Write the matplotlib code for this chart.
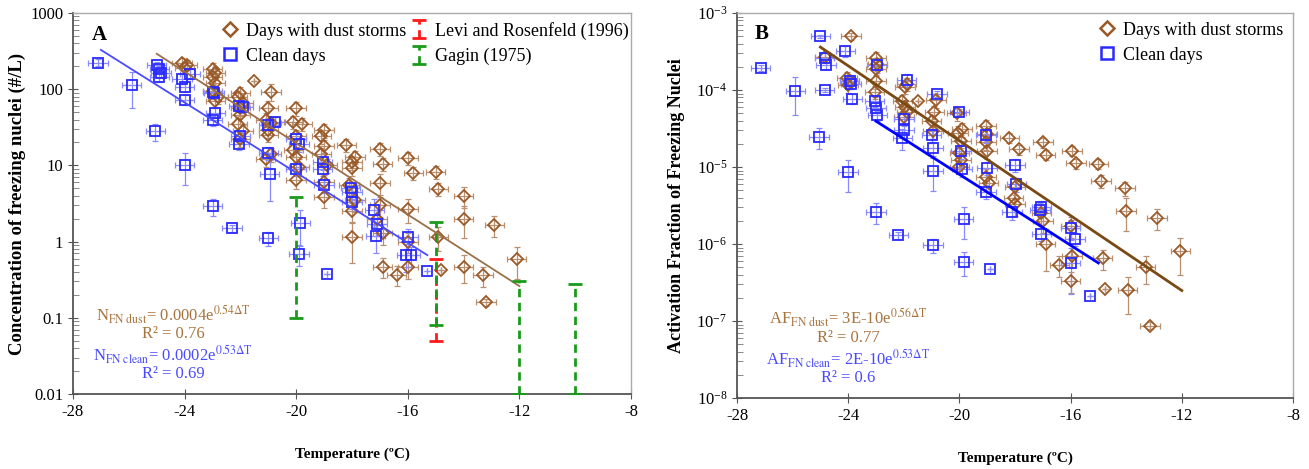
import numpy as np
import matplotlib
matplotlib.use('Agg')
import matplotlib.pyplot as plt
from matplotlib.lines import Line2D
from matplotlib.ticker import FixedLocator, LogLocator, NullFormatter, LogFormatterMathtext

plt.rcParams['font.family'] = ['Liberation Serif', 'DejaVu Serif']
plt.rcParams['mathtext.fontset'] = 'stix'
plt.rcParams['axes.unicode_minus'] = False

# ---- Panel A: concentration of freezing nuclei (#/L) ----
dustA_T = [-24.1, -23.9, -24.0, -23.0, -22.9, -23.0, -22.9, -23.0, -22.8, -22.9,
           -21.5, -22.0, -22.1, -21.9, -22.0, -22.0, -22.1, -21.9, -22.0, -20.9,
           -21.0, -21.1, -20.9, -21.0, -21.0, -20.9, -21.1, -20.0, -20.1, -19.8,
           -20.0, -20.1, -20.0, -19.9, -20.0, -19.0, -19.1, -19.0, -19.1, -18.9,
           -19.0, -19.0, -18.2, -17.9, -18.0, -18.0, -18.1, -17.9, -18.0, -18.0,
           -17.0, -16.9, -17.0, -17.0, -17.1, -16.9, -16.9, -16.4, -16.0, -15.8,
           -16.0, -16.0, -16.0, -15.0, -14.9, -14.9, -14.8, -14.0, -14.0, -14.0,
           -12.9, -13.3, -13.2, -12.1]
dustA_N = [220, 210, 190, 185, 165, 145, 120, 95, 80, 70,
           130, 88, 78, 65, 56, 46, 35, 28, 22, 93,
           56, 40, 36, 29, 25, 14, 12, 56, 37, 35,
           24, 16, 13, 9.6, 6.5, 29, 24, 18, 14, 10,
           6, 3.9, 18.5, 13, 11, 9.2, 5.5, 3.5, 2.5, 1.16,
           16.4, 10.4, 5.9, 3.0, 2.0, 1.3, 0.47, 0.37, 12.5, 8.0,
           2.7, 1.0, 0.46, 8.2, 4.9, 1.16, 0.43, 4.0, 2.0, 0.47,
           1.66, 0.36, 0.16, 0.59]
dustA_rel = [0.15, 0.15, 0.15, 0.2, 0.2, 0.2, 0.2, 0.2, 0.2, 0.2,
             0, 0.2, 0.2, 0.2, 0.2, 0.25, 0.2, 0.2, 0.2, 0.25,
             0.25, 0.2, 0.2, 0.2, 0.2, 0.2, 0.2, 0.2, 0.2, 0.2,
             0.2, 0.2, 0.2, 0.25, 0.25, 0.2, 0.2, 0.2, 0.2, 0.2,
             0.25, 0.3, 0.2, 0.2, 0.2, 0.2, 0.25, 0.3, 0.3, 0.55,
             0.2, 0.2, 0.3, 0.3, 0.3, 0.3, 0.3, 0.3, 0.2, 0.2,
             0.35, 0.3, 0.3, 0.2, 0.2, 0.35, 0, 0.3, 0.45, 0.4,
             0.3, 0.3, 0.1, 0.45]

cleanA_T = [-27.1, -25.9, -25.05, -25.0, -24.9, -24.85, -24.9, -24.0, -24.1, -24.0,
            -24.0, -23.8, -23.0, -23.0, -22.95, -22.9, -23.0, -22.3, -22.05, -21.9,
            -22.0, -22.05, -21.0, -20.75, -21.0, -21.0, -20.95, -20.0, -19.9, -20.0,
            -19.85, -19.9, -18.9, -19.05, -19.05, -19.0, -18.05, -18.0, -18.0, -17.2,
            -17.1, -17.15, -16.0, -16.05, -15.9, -15.3]
cleanA_N = [224, 113, 28, 205, 185, 165, 145, 10, 138, 108,
            72, 158, 2.9, 93, 88, 49, 39, 1.5, 60, 58,
            24, 19, 1.1, 37, 34, 14.5, 7.6, 22, 19, 9.1,
            1.74, 0.69, 0.38, 11, 9, 5.5, 5.0, 4.5, 3.3, 2.6,
            1.7, 1.17, 1.14, 0.66, 0.66, 0.41]
cleanA_rel = [0.1, 0.5, 0.25, 0.1, 0.1, 0.15, 0.15, 0.45, 0.15, 0.15,
              0.15, 0.15, 0.25, 0.15, 0.15, 0.15, 0.15, 0.1, 0.15, 0.15,
              0.15, 0.15, 0.2, 0.15, 0.15, 0.2, 0.55, 0.2, 0.2, 0.2,
              0.5, 0.3, 0, 0.2, 0.2, 0.2, 0.2, 0.2, 0.2, 0.4,
              0.3, 0.4, 0.3, 0.4, 0.3, 0]

# literature ranges (T, low, high)
gagin_T = [-20, -15, -12, -10]
gagin_lo = [0.1, 0.08, 0.01, 0.01]
gagin_hi = [3.9, 1.8, 0.3, 0.28]
levi_T = [-15]
levi_lo = [0.05]
levi_hi = [0.6]

# fits: coefficient, rate, T range
fitA_dust = (0.0004, 0.54, -25.0, -12.0)
fitA_clean = (0.0002, 0.53, -27.0, -15.3)

# ---- Panel B: activation fraction ----
dustB_T = [-24.85, -23.9, -24.05, -23.95, -24.0, -23.0, -22.95, -23.0, -23.0, -23.05,
           -21.9, -21.95, -22.05, -21.95, -21.9, -22.0, -21.5, -20.85, -20.9, -21.0,
           -20.95, -20.1, -19.9, -20.05, -19.95, -20.0, -19.95, -20.0, -19.05, -19.0,
           -19.05, -19.0, -19.05, -18.95, -18.2, -17.85, -18.0, -18.05, -18.0, -17.0,
           -16.9, -17.05, -17.0, -16.9, -16.4, -15.95, -15.8, -16.0, -15.95, -16.0,
           -15.0, -14.9, -14.85, -14.78, -14.05, -14.0, -13.95, -12.9, -13.3, -13.15,
           -12.05]
dustB_AF = [2.7e-4, 5.0e-4, 1.42e-4, 1.29e-4, 1.15e-4, 2.6e-4, 2.2e-4, 1.9e-4, 1.29e-4, 9.5e-5,
            1.2e-4, 1.1e-4, 7.1e-5, 6.1e-5, 5.2e-5, 4.5e-5, 7.1e-5, 7.4e-5, 5.2e-5, 3.9e-5,
            2.9e-5, 5.0e-5, 3.1e-5, 2.8e-5, 2.2e-5, 1.54e-5, 1.23e-5, 1.0e-5, 3.4e-5, 2.7e-5,
            2.1e-5, 1.6e-5, 7.5e-6, 6.2e-6, 2.4e-5, 1.7e-5, 5.5e-6, 4.0e-6, 3.3e-6, 2.1e-5,
            1.44e-5, 2.5e-6, 2.0e-6, 1.0e-6, 5.4e-7, 1.63e-5, 1.12e-5, 1.7e-6, 6.9e-7, 3.3e-7,
            1.1e-5, 6.6e-6, 6.5e-7, 2.6e-7, 5.3e-6, 2.7e-6, 2.5e-7, 2.2e-6, 5.0e-7, 8.7e-8,
            8.0e-7]
dustB_rel = [0.15, 0.1, 0.2, 0.2, 0.2, 0.2, 0.2, 0.2, 0.2, 0.2,
             0.2, 0.2, 0.2, 0.2, 0.2, 0.2, 0, 0.2, 0.2, 0.2,
             0.2, 0.2, 0.2, 0.2, 0.2, 0.2, 0.2, 0.2, 0.2, 0.2,
             0.2, 0.2, 0.25, 0.25, 0.15, 0.15, 0.3, 0.3, 0.3, 0.15,
             0.15, 0.3, 0.3, 0.55, 0.3, 0.15, 0.15, 0.3, 0.3, 0.3,
             0.15, 0.2, 0.3, 0, 0.2, 0.45, 0.5, 0.3, 0.4, 0.1,
             0.5]

cleanB_T = [-27.15, -25.9, -25.0, -24.85, -24.8, -24.85, -25.05, -24.1, -23.95, -23.9,
            -23.85, -24.0, -22.97, -23.05, -23.0, -22.95, -23.0, -22.2, -21.9, -22.0,
            -22.0, -22.05, -20.8, -21.0, -20.95, -20.95, -20.95, -20.0, -19.95, -19.9,
            -19.85, -19.85, -18.9, -19.05, -19.0, -19.05, -18.0, -17.95, -18.1, -17.05,
            -17.1, -17.05, -16.0, -15.85, -16.0, -15.3]
cleanB_AF = [1.94e-4, 9.8e-5, 5.0e-4, 2.6e-4, 2.1e-4, 1.0e-4, 2.45e-5, 3.2e-4, 1.29e-4, 1.2e-4,
             7.7e-5, 8.5e-6, 2.1e-4, 7.1e-5, 5.9e-5, 4.7e-5, 2.6e-6, 1.3e-6, 1.36e-4, 4.2e-5,
             3.0e-5, 2.4e-5, 8.9e-5, 2.6e-5, 1.75e-5, 8.9e-6, 9.6e-7, 5.2e-5, 1.6e-5, 9.3e-6,
             2.1e-6, 5.9e-7, 4.7e-7, 2.6e-5, 9.7e-6, 4.8e-6, 1.07e-5, 6.0e-6, 2.6e-6, 3.0e-6,
             2.8e-6, 1.35e-6, 1.6e-6, 1.17e-6, 5.6e-7, 2.1e-7]
cleanB_rel = [0.08, 0.52, 0.05, 0.15, 0.1, 0.05, 0.3, 0.15, 0.15, 0.15,
              0.15, 0.45, 0.2, 0.15, 0.15, 0.15, 0.3, 0.1, 0.2, 0.2,
              0.2, 0.3, 0.1, 0.2, 0.2, 0.45, 0.2, 0.1, 0.2, 0.2,
              0.45, 0.35, 0, 0.2, 0.2, 0.2, 0.2, 0.2, 0.2, 0.2,
              0.2, 0.2, 0.3, 0.2, 0.6, 0]

fitB_dust = (3e-10, 0.56, -25.0, -12.0)
fitB_clean = (2e-10, 0.53, -23.0, -15.0)

BROWN = '#9a5a28'
BROWN_ERR = '#b89070'
BLUE = '#2a2aff'
BLUE_ERR = '#8a8aff'
GREEN = '#1a9a1a'
RED = '#ff1a1a'


def draw_points(ax, T, v, rel, color, ecolor, marker, ms):
    T = np.asarray(T)
    v = np.asarray(v)
    rel = np.asarray(rel)
    xerr = np.where(rel > 0, 0.35, 0.0)
    ax.errorbar(T, v, xerr=xerr, yerr=v * rel, fmt='none', ecolor=ecolor,
                elinewidth=0.9, capsize=2, capthick=0.9, zorder=2)
    ax.plot(T, v, linestyle='none', marker=marker, ms=ms, mfc='none',
            mec=color, mew=1.3, zorder=3)


def draw_fit(ax, fit, color, lw):
    a, k, t0, t1 = fit
    t = np.array([t0, t1])
    ax.plot(t, a * np.exp(-k * t), color=color, lw=lw, zorder=5)


def draw_range(ax, T, lo, hi, color):
    T = np.asarray(T, dtype=float)
    lo = np.asarray(lo)
    hi = np.asarray(hi)
    mid = np.sqrt(lo * hi)
    eb = ax.errorbar(T, mid, yerr=[mid - lo, hi - mid], fmt='none', ecolor=color,
                     elinewidth=2, capsize=5, capthick=2, zorder=6)
    eb[2][0].set_linestyle((0, (3, 2)))
    return eb


def style_axes(ax):
    ax.set_xlim(-28, -8)
    ax.set_xticks([-28, -24, -20, -16, -12, -8])
    ax.tick_params(axis='both', which='major', direction='inout', length=7,
                   labelsize=12, color='#555555')
    ax.tick_params(axis='y', which='minor', direction='in', length=4, color='#777777')
    ax.tick_params(axis='x', which='minor', bottom=False)
    for s in ['left', 'bottom']:
        ax.spines[s].set_color('#555555')
        ax.spines[s].set_linewidth(1.3)
    for s in ['top', 'right']:
        ax.spines[s].set_color('#aaaaaa')
        ax.spines[s].set_linewidth(1.0)
    ax.set_xlabel('Temperature (ºC)', fontsize=11, fontweight='bold', labelpad=20)


fig = plt.figure(figsize=(13.09, 4.69), dpi=100)
axA = fig.add_axes([73 / 1309, 1 - 394 / 469, 558 / 1309, 381 / 469])
axB = fig.add_axes([737 / 1309, 1 - 398 / 469, 556 / 1309, 385 / 469])

# ---- A ----
axA.set_yscale('log')
draw_points(axA, dustA_T, dustA_N, dustA_rel, BROWN, BROWN_ERR, 'D', 6.5)
draw_points(axA, cleanA_T, cleanA_N, cleanA_rel, BLUE, BLUE_ERR, 's', 7.5)
draw_fit(axA, fitA_dust, '#9a7048', 1.3)
draw_fit(axA, fitA_clean, '#4a4aff', 1.3)
levi = draw_range(axA, levi_T, levi_lo, levi_hi, RED)
gagin = draw_range(axA, gagin_T, gagin_lo, gagin_hi, GREEN)
axA.set_ylim(0.01, 1000)
style_axes(axA)
axA.yaxis.set_major_locator(FixedLocator([0.01, 0.1, 1, 10, 100, 1000]))
axA.set_yticklabels(['0.01', '0.1', '1', '10', '100', '1000'])
axA.yaxis.set_minor_locator(LogLocator(base=10, subs=np.arange(2, 10)))
axA.yaxis.set_minor_formatter(NullFormatter())
axA.set_ylabel('Concentration of freezing nuclei (#/L)', fontsize=13.5,
               fontweight='bold', labelpad=3)
axA.text(0.047, 0.942, 'A', transform=axA.transAxes, fontsize=15,
         fontweight='bold', ha='center', va='center')

h_dust = Line2D([], [], ls='none', marker='D', ms=7, mfc='none', mec=BROWN, mew=1.8)
h_clean = Line2D([], [], ls='none', marker='s', ms=8, mfc='none', mec=BLUE, mew=1.8)
axA.legend([h_dust, h_clean, levi, gagin],
           ['Days with dust storms', 'Clean days', 'Levi and Rosenfeld (1996)', 'Gagin (1975)'],
           ncol=2, loc='upper right', bbox_to_anchor=(1.025, 1.02), frameon=False,
           fontsize=13, handlelength=1.0, handletextpad=0.4, columnspacing=0.2,
           labelspacing=0.45)

axA.text(0.179, 0.207, r'N$_{\mathrm{FN\ dust}}$= 0.0004e$^{0.54\Delta\mathrm{T}}$',
         transform=axA.transAxes, color='#a8743e', fontsize=12, ha='center', va='center')
axA.text(0.179, 0.157, 'R² = 0.76', transform=axA.transAxes, color='#a8743e',
         fontsize=12, ha='center', va='center')
axA.text(0.179, 0.102, r'N$_{\mathrm{FN\ clean}}$= 0.0002e$^{0.53\Delta\mathrm{T}}$',
         transform=axA.transAxes, color='#4a4aff', fontsize=12, ha='center', va='center')
axA.text(0.179, 0.052, 'R² = 0.69', transform=axA.transAxes, color='#4a4aff',
         fontsize=12, ha='center', va='center')

# ---- B ----
axB.set_yscale('log')
draw_points(axB, dustB_T, dustB_AF, dustB_rel, BROWN, BROWN_ERR, 'D', 6.5)
draw_points(axB, cleanB_T, cleanB_AF, cleanB_rel, BLUE, BLUE_ERR, 's', 7.5)
draw_fit(axB, fitB_dust, '#7a4a14', 2.0)
draw_fit(axB, fitB_clean, '#0000ff', 2.0)
axB.set_ylim(1e-8, 1e-3)
style_axes(axB)
axB.yaxis.set_major_locator(FixedLocator([1e-8, 1e-7, 1e-6, 1e-5, 1e-4, 1e-3]))
axB.yaxis.set_major_formatter(LogFormatterMathtext())
axB.yaxis.set_minor_locator(LogLocator(base=10, subs=np.arange(2, 10)))
axB.yaxis.set_minor_formatter(NullFormatter())
axB.set_ylabel('Activation Fraction of Freezing Nuclei', fontsize=13,
               fontweight='bold', labelpad=8)
axB.text(0.044, 0.945, 'B', transform=axB.transAxes, fontsize=15,
         fontweight='bold', ha='center', va='center')
axB.legend([h_dust, h_clean], ['Days with dust storms', 'Clean days'],
           loc='upper right', bbox_to_anchor=(1.012, 1.02), frameon=False,
           fontsize=13, handlelength=1.0, handletextpad=0.4, labelspacing=0.45)

axB.text(0.2, 0.207, r'AF$_{\mathrm{FN\ dust}}$= 3E-10e$^{0.56\Delta\mathrm{T}}$',
         transform=axB.transAxes, color='#a8743e', fontsize=12, ha='center', va='center')
axB.text(0.2, 0.157, 'R² = 0.77', transform=axB.transAxes, color='#a8743e',
         fontsize=12, ha='center', va='center')
axB.text(0.2, 0.102, r'AF$_{\mathrm{FN\ clean}}$= 2E-10e$^{0.53\Delta\mathrm{T}}$',
         transform=axB.transAxes, color='#4a4aff', fontsize=12, ha='center', va='center')
axB.text(0.2, 0.052, 'R² = 0.6', transform=axB.transAxes, color='#4a4aff',
         fontsize=12, ha='center', va='center')

fig.savefig('out.png', dpi=100)
